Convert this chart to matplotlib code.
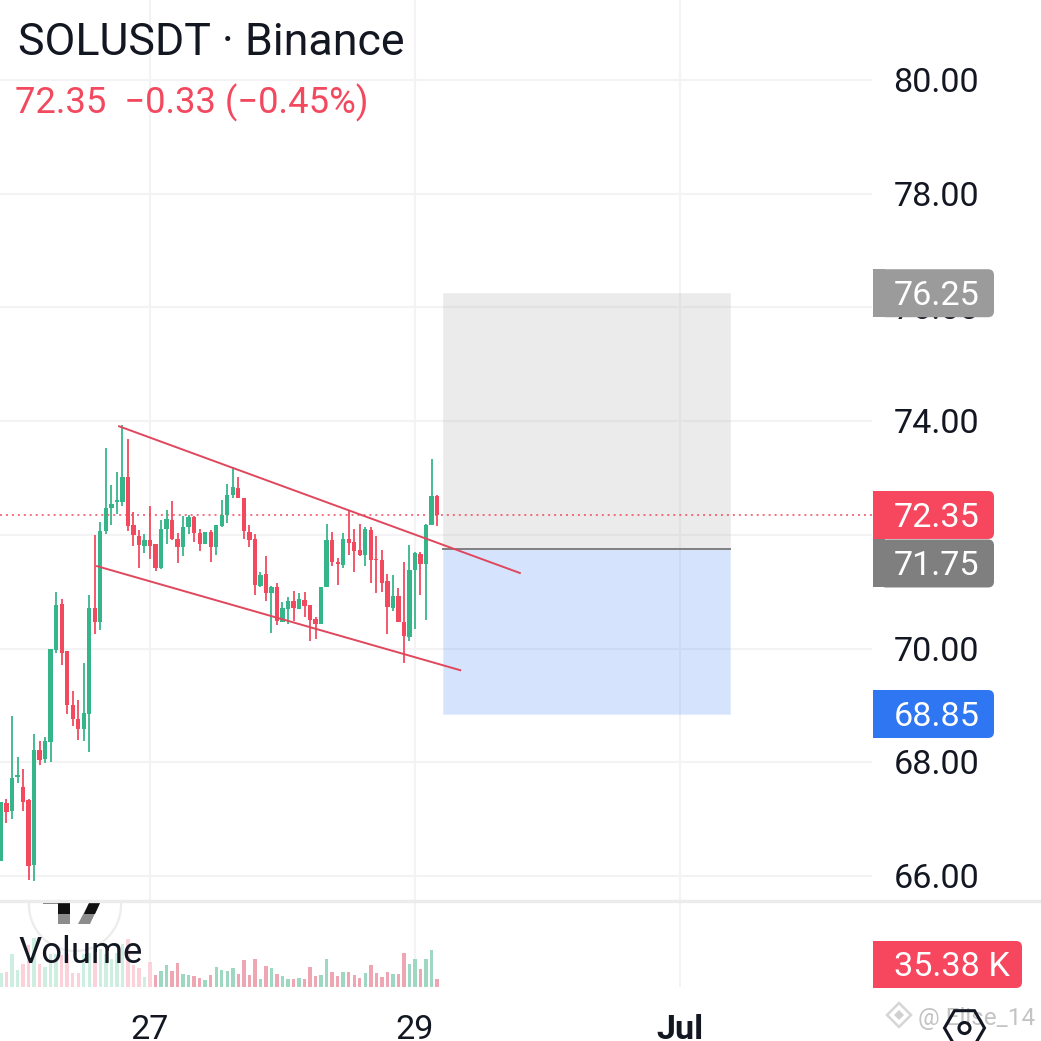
import matplotlib
matplotlib.use("Agg")
import matplotlib.pyplot as plt
from matplotlib.patches import FancyBboxPatch, Rectangle, Circle, RegularPolygon, Polygon
import math

plt.rcParams['font.family'] = ['Roboto', 'DejaVu Sans']

# Hourly candles; hour 0 = 27 June 00:00
hours = list(range(-27, 53))
opens = [66.27,67.28,67.15,67.74,67.57,67.33,66.19,68.22,68.06,68.36,69.98,70.78,69.96,69.01,68.77,68.59,68.85,70.71,70.46,72.06,
         72.48,72.58,72.58,73.01,72.17,71.98,71.81,71.91,71.84,71.41,72.11,72.26,71.93,71.79,72.13,72.32,72.03,71.84,72.05,71.79,
         72.16,72.35,72.70,72.82,72.64,72.05,71.92,71.10,71.31,70.97,71.08,70.47,70.70,70.83,70.70,70.85,70.76,70.52,70.44,71.08,
         71.91,71.52,71.47,71.92,71.87,71.73,71.65,72.09,71.57,71.56,71.19,70.71,70.92,70.47,70.20,71.38,71.66,71.48,72.18,72.68]
highs = [67.30,67.36,68.81,68.09,67.89,67.36,68.50,68.37,68.45,70.00,70.99,70.87,69.96,69.25,69.10,69.74,70.94,72.00,72.23,73.52,
         72.88,73.11,73.93,73.69,72.40,72.09,72.02,72.51,71.84,72.26,72.44,72.60,72.03,72.33,72.35,72.33,72.11,72.05,72.09,72.17,
         72.61,72.89,73.19,73.01,72.64,72.17,72.01,71.34,71.63,71.10,71.15,70.82,70.91,71.01,70.97,70.99,70.77,70.56,71.08,72.20,
         72.05,71.59,72.03,72.43,72.10,72.20,72.13,72.13,71.98,71.73,71.32,71.29,71.06,71.52,71.82,71.70,71.70,72.19,73.33,72.70]
lows = [66.27,66.94,67.01,67.63,67.15,65.93,65.92,67.96,67.98,68.01,69.93,69.72,68.85,68.64,68.39,68.38,68.19,70.25,70.32,72.02,
        72.17,72.37,72.50,72.06,71.80,71.42,71.69,71.58,71.37,71.40,71.84,71.91,71.51,71.63,72.02,71.87,71.72,71.84,71.53,71.65,
        72.14,72.21,72.64,72.64,71.92,71.78,70.95,71.09,70.83,70.27,70.42,70.46,70.44,70.49,70.70,70.56,70.14,70.17,70.44,71.08,
        71.45,71.12,71.42,71.65,71.34,71.63,71.46,71.16,70.98,71.00,70.26,70.67,70.46,69.75,70.14,70.34,70.95,70.50,72.17,72.16]
closes = [67.30,67.13,67.72,67.76,67.31,66.18,68.22,68.04,68.37,70.00,70.77,69.93,69.00,68.77,68.59,68.86,70.71,70.46,72.07,72.48,
          72.55,72.61,73.02,72.16,71.99,71.82,71.91,71.80,71.42,72.11,72.28,71.93,71.79,72.14,72.32,72.03,71.84,72.05,71.79,72.17,
          72.35,72.70,72.85,72.64,72.06,71.91,71.11,71.29,70.97,71.09,70.49,70.71,70.83,70.71,70.87,70.75,70.50,70.43,71.08,71.91,
          71.52,71.48,71.93,71.86,71.72,71.64,72.10,71.55,71.55,71.16,70.74,70.92,70.46,70.23,71.38,71.68,71.48,72.17,72.68,72.35]
volumes = [62,66,147,75,103,186,218,103,88,144,147,140,144,62,62,144,152,174,167,144,
           122,152,189,214,97,85,44,111,53,71,97,71,106,57,53,49,40,31,53,88,
           75,71,84,57,119,53,124,35,93,84,57,49,35,35,40,35,88,49,53,124,
           66,49,66,66,53,40,62,97,62,44,66,57,57,150,102,124,80,124,164,35.38]
volume_tick_hours = [0, 48, 96]
time_labels = ['27', '29', 'Jul']
price_ticks = [66, 68, 70, 72, 74, 76, 78, 80]
last_price = 72.35
entry_price, target_price, stop_price = 71.75, 76.25, 68.85
position_hours = (53.1, 105.1)
upper_trend = ((-5.6, 67.0), (73.91, 71.33))
lower_trend = ((-9.6, 56.2), (71.45, 69.62))

W = 1041
fig = plt.figure(figsize=(10.41, 10.41), dpi=100, facecolor='white')
def axes_px(x0, y0, x1, y1, **kw):
    return fig.add_axes([x0 / W, 1 - y1 / W, (x1 - x0) / W, (y1 - y0) / W], **kw)

GREEN, RED = '#36b58a', '#f2495f'
GRID = '#f3f3f5'
x_per_hour = 5.52
xlim = ((0 - 150) / x_per_hour, (872 - 150) / x_per_hour)

ax = axes_px(0, 0, 872, 900)
ax.set_xlim(*xlim)
ax.set_ylim(80 - (900 - 80) / 56.86, 80 + 80 / 56.86)
ax.axis('off')
for p in price_ticks:
    ax.axhline(p, color=GRID, lw=1.5, zorder=0)
for h in volume_tick_hours:
    ax.axvline(h, color=GRID, lw=1.5, zorder=0)

ax.add_patch(Rectangle((position_hours[0], entry_price), position_hours[1] - position_hours[0], target_price - entry_price,
                       fc='#9e9e9e', alpha=0.2, ec='#cccccc', lw=0.5, zorder=1))
ax.add_patch(Rectangle((position_hours[0], stop_price), position_hours[1] - position_hours[0], entry_price - stop_price,
                       fc='#5b93f5', alpha=0.25, ec='#c4d6f5', lw=0.5, zorder=1))
ax.plot(position_hours, [entry_price, entry_price], color='#808080', lw=1.4, zorder=2)
ax.plot([xlim[0], xlim[1]], [last_price, last_price], color=RED, lw=1.1, ls=(0, (1.3, 2.6)), zorder=2)

for h, o, hi, lo, c in zip(hours, opens, highs, lows, closes):
    col = GREEN if c >= o else RED
    ax.vlines(h, lo, hi, color=col, lw=1.4, alpha=0.92, zorder=3)
    ax.bar(h, max(abs(c - o), 0.03), bottom=min(o, c), width=0.78, color=col, zorder=3, lw=0)

ax.plot(*upper_trend, color='#e0475c', lw=1.4, zorder=4)
ax.plot(*lower_trend, color='#e0475c', lw=1.4, zorder=4)

# Volume pane
vax = axes_px(0, 902, 872, 987)
vax.set_xlim(*xlim)
vax.set_ylim(0, 85 / 0.226)
vax.axis('off')
for h in volume_tick_hours:
    vax.axvline(h, color=GRID, lw=1.5, zorder=0)
for h, o, c, v in zip(hours, opens, closes, volumes):
    up = c >= o
    if h < 0:
        col = '#cfeee2' if up else '#fbd2da'
    elif h == 0:
        col = '#fbd2da'
    else:
        col = '#9ed8c2' if up else '#eda6b2'
    vax.bar(h, v, width=0.62, color=col, lw=0, zorder=1)

# Overlay in pixel space
ov = fig.add_axes([0, 0, 1, 1], facecolor='none')
ov.set_xlim(0, W)
ov.set_ylim(W, 0)
ov.axis('off')
ov.plot([0, W], [901, 901], color='#ececec', lw=2.4, zorder=1)

def y_px(price):
    return W - ax.transData.transform((0, price))[1] * W / fig.bbox.height

FS = 24.6
DY = 3
for p in price_ticks:
    if p == 72:
        continue
    ov.text(893.5, y_px(p) + DY, f'{p:.2f}', fontsize=FS, color='#131722', va='center', ha='left', zorder=2)

def price_label(y, text, color, x1=994, x0=873, h=48):
    ov.add_patch(FancyBboxPatch((x0 + 7, y - h / 2), x1 - x0 - 7, h, boxstyle='round,pad=0,rounding_size=6', fc=color, ec='none', zorder=3))
    ov.add_patch(Rectangle((x0, y - h / 2), 12, h, fc=color, ec='none', zorder=3))
    ov.text(894, y + DY, text, fontsize=FS, color='white', va='center', ha='left', zorder=4)

price_label(y_px(target_price), '76.25', '#9b9b9b')
price_label(y_px(last_price), '72.35', '#f7475f')
price_label(y_px(last_price) + 48.5, '71.75', '#7f7f7f')
price_label(y_px(stop_price), '68.85', '#2f77f2')
price_label(964.5, '35.38 K', '#f7475f', x1=1022, h=47)

ov.text(18, 43, 'SOLUSDT · Binance', fontsize=32.2, color='#131722', va='center', ha='left', zorder=5)
ov.text(15, 103, '72.35  −0.33 (−0.45%)', fontsize=26.2, color='#f2495f', va='center', ha='left', zorder=5)
ov.text(18, 953, 'Volume', fontsize=26.3, color='#131722', va='center', ha='left', zorder=5)
for h, t in zip(volume_tick_hours, time_labels):
    ov.text(150 + h * x_per_hour, 1030, t, fontsize=FS, color='#131722', va='center', ha='center',
            fontweight='bold' if t == 'Jul' else 'normal')

# TradingView badge, visible only below the pane separator
clip = Rectangle((0, 903), 200, 100, transform=ov.transData)
badge = Circle((75, 905), 46, fc='none', ec='#ececec', lw=1.6, zorder=0.5)
ov.add_patch(badge)
badge.set_clip_path(clip)
ov.add_patch(Rectangle((43, 902.5), 27, 1.2, fc='#777777', ec='none', zorder=0.7))
ov.add_patch(Rectangle((58, 903), 12, 21, fc='#8c8c8c', ec='none', zorder=0.6))
ov.add_patch(Rectangle((58, 903), 12, 11, fc='#111111', ec='none', zorder=0.7))
ov.add_patch(Polygon([(89, 903), (100, 903), (90, 924), (78, 924)], fc='#8c8c8c', ec='none', zorder=0.6))
ov.add_patch(Polygon([(89, 903), (100, 903), (95, 914), (84, 914)], fc='#111111', ec='none', zorder=0.7))

# Watermark and settings icon
ov.add_patch(RegularPolygon((899, 1015), 4, radius=12, fc='none', ec='#d6d6d6', lw=1.8, zorder=2))
ov.add_patch(RegularPolygon((899, 1015), 4, radius=5, fc='#d0d0d0', ec='none', zorder=2))
ov.text(918, 1018, '@ Elise_14', fontsize=17.5, color='#c4c4c4', va='center', ha='left', zorder=2)
ov.add_patch(RegularPolygon((964.5, 1028), 6, radius=20, orientation=math.pi / 6, fc='none', ec='#131722', lw=2.2, zorder=3))
ov.add_patch(Circle((964.5, 1028), 5.5, fc='none', ec='#131722', lw=2.2, zorder=3))

fig.savefig('out.png', dpi=100, facecolor='white')
